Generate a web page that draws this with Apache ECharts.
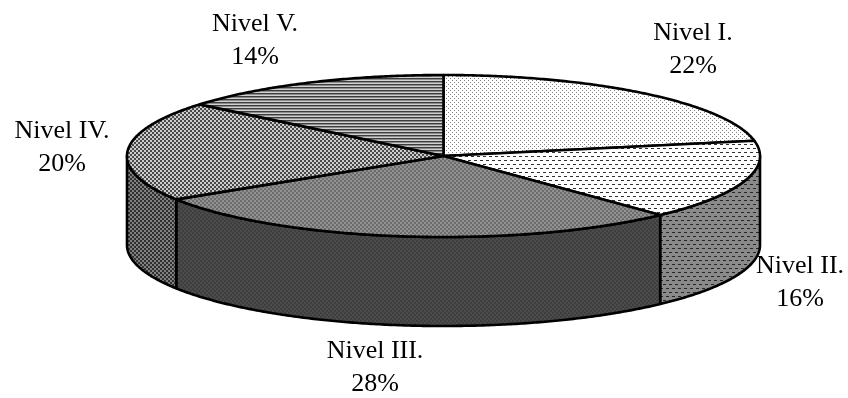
<!DOCTYPE html>
<html>
<head>
<meta charset="utf-8">
<style>html,body{margin:0;padding:0;background:#fff}#chart{width:848px;height:398px}</style>
<script src="https://cdn.jsdelivr.net/npm/echarts@6/dist/echarts.min.js"></script>
</head>
<body>
<div id="chart"></div>
<script>
// Share of respondents per level
const categories = ['Nivel I.', 'Nivel II.', 'Nivel III.', 'Nivel IV.', 'Nivel V.'];
const shares = [22, 16, 28, 20, 14];

// Label centres in pixels
const labelX = [693, 800, 375, 62, 255];
const labelY = [50, 283, 368, 148, 41];

// Disc geometry
const CX = 443.5, CY = 156, RX = 316.5, RY = 81, DEPTH = 89;

// Hatch tiles: a palette plus rows of palette indices
function tile(palette, rows) {
  const c = document.createElement('canvas');
  c.width = rows[0].length;
  c.height = rows.length;
  const g = c.getContext('2d');
  rows.forEach((row, y) => {
    for (let x = 0; x < row.length; x++) {
      g.fillStyle = palette[+row[x]];
      g.fillRect(x, y, 1, 1);
    }
  });
  return { image: c, repeat: 'repeat' };
}
const topFill = [
  tile(['#ffffff', '#808080'], ['1000', '0000', '0010', '0000']),
  tile(['#ffffff', '#303030'], ['111000', '000000', '000000', '000000', '000111', '000000', '000000', '000000']),
  tile(['#6c6c6c', '#929292'], ['0011', '0011', '1100', '1100']),
  tile(['#4a4a4a', '#cccccc'], ['0011', '0011', '1100', '1100']),
  tile(['#3c3c3c', '#8c8c8c', '#d0d0d0'], ['0', '1', '2'])
];
const sideFill = [
  null,
  tile(['#8a8a8a', '#262626'], ['111000', '000000', '000000', '000000', '000111', '000000', '000000', '000000']),
  tile(['#3e3e3e', '#4c4c4c'], ['0011', '0011', '1100', '1100']),
  tile(['#303030', '#808080'], ['0011', '0011', '1100', '1100']),
  null
];

// Point on the rim at a fraction (0..1) of the turn, clockwise from the top
function rim(api, frac, drop) {
  const t = frac * 2 * Math.PI;
  return api.coord([CX + RX * Math.sin(t), CY - RY * Math.cos(t) + drop]);
}
function arcPoints(api, from, to, drop) {
  const pts = [];
  const steps = Math.max(2, Math.ceil((to - from) * 720));
  for (let i = 0; i <= steps; i++) pts.push(rim(api, from + (to - from) * i / steps, drop));
  return pts;
}

const stroke = { stroke: '#000', lineWidth: 2.6, lineJoin: 'round' };

function renderSlice(params, api) {
  const from = api.value(0) / 100, to = api.value(1) / 100;
  const children = [];

  // Visible wall: the part of the rim on the front half of the disc
  const a = Math.max(from, 0.25), b = Math.min(to, 0.75);
  if (b > a) {
    const pts = arcPoints(api, a, b, 0).concat(arcPoints(api, a, b, DEPTH).reverse());
    children.push({
      type: 'polygon', z2: 1,
      shape: { points: pts },
      style: Object.assign({ fill: sideFill[params.dataIndex] }, stroke)
    });
  }

  // Top face
  children.push({
    type: 'polygon', z2: 2,
    shape: { points: [api.coord([CX, CY])].concat(arcPoints(api, from, to, 0)) },
    style: Object.assign({ fill: topFill[params.dataIndex] }, stroke)
  });

  // Two-line label: level name and its share
  const at = api.coord([labelX[params.dataIndex], labelY[params.dataIndex]]);
  children.push({
    type: 'text', z2: 3, x: at[0], y: at[1],
    style: {
      text: categories[params.dataIndex] + '\n' + shares[params.dataIndex] + '%',
      font: '26px "Liberation Serif", "Times New Roman", serif',
      lineHeight: 33, align: 'center', verticalAlign: 'middle', fill: '#000'
    }
  });
  return { type: 'group', children };
}

// Cumulative start and end of each slice
let running = 0;
const spans = shares.map((v) => { const s = [running, running + v]; running += v; return s; });

const chart = echarts.init(document.getElementById('chart'), null, { renderer: 'canvas' });
chart.setOption({
  animation: false,
  backgroundColor: '#fff',
  grid: { left: 0, right: 0, top: 0, bottom: 0 },
  xAxis: { type: 'value', min: 0, max: 848, show: false },
  yAxis: { type: 'value', min: 0, max: 398, inverse: true, show: false },
  series: [{
    type: 'custom',
    coordinateSystem: 'cartesian2d',
    clip: false,
    renderItem: renderSlice,
    encode: { x: 0, y: 1 },
    data: spans
  }]
});
</script>
</body>
</html>
